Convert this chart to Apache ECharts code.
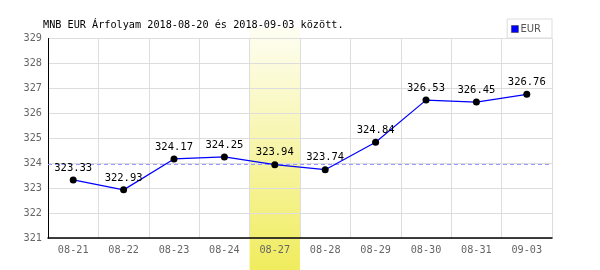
<!DOCTYPE html>
<html><head><meta charset="utf-8">
<script src="https://cdn.jsdelivr.net/npm/echarts@6/dist/echarts.min.js"></script>
<style>html,body{margin:0;padding:0;background:#fff}#c{width:600px;height:270px}</style>
</head><body><div id="c"></div>
<script>
var categories = ['08-21','08-22','08-23','08-24','08-27','08-28','08-29','08-30','08-31','09-03'];
var eurValues = [323.33,322.93,324.17,324.25,323.94,323.74,324.84,326.53,326.45,326.76];
var highlightCategory = '08-27';
var referenceValue = 323.94;
var yTicks = [321,322,323,324,325,326,327,328,329];
var titleText = 'MNB EUR Árfolyam 2018-08-20 és 2018-09-03 között.';
var seriesName = 'EUR';

var mono = '"DejaVu Sans Mono", monospace';
var chart = echarts.init(document.getElementById('c'), null, {renderer:'canvas'});
var option = {
  animation: false,
  backgroundColor: '#fff',
  title: { text: titleText, left: 43, top: 20, padding: 0, textStyle: { fontFamily: mono, fontSize: 10.2, fontWeight: 'normal', color: '#000' } },
  legend: {
    data: [{ name: seriesName, icon: 'rect', itemStyle: { color: '#0000ff', borderColor: '#333', borderWidth: 0.5 } }],
    right: 48, top: 19, itemWidth: 7, itemHeight: 7, itemGap: 2,
    padding: [5, 11, 4, 4],
    borderColor: '#ddd', borderWidth: 1, backgroundColor: '#fff',
    textStyle: { fontFamily: 'DejaVu Sans', fontSize: 10, color: '#555', padding: [0,0,0,-3] }
  },
  grid: { left: 48, right: 48, top: 38.5, bottom: 32 },
  xAxis: {
    type: 'category', data: categories, boundaryGap: true,
    axisLine: { lineStyle: { color: '#000', width: 1.5 } },
    axisTick: { show: false },
    axisLabel: { fontFamily: mono, fontSize: 10.2, color: '#666', margin: 7 },
    splitLine: { show: true, lineStyle: { color: '#ddd', width: 1 } }
  },
  yAxis: {
    type: 'value', min: yTicks[0], max: yTicks[yTicks.length-1], interval: 1,
    axisLine: { show: true, lineStyle: { color: '#000', width: 1 } },
    axisTick: { show: false },
    axisLabel: { fontFamily: mono, fontSize: 10.2, color: '#666', margin: 6 },
    splitLine: { show: true, lineStyle: { color: '#ddd', width: 1 } }
  },
  series: [{
    name: seriesName, type: 'line', data: eurValues,
    lineStyle: { color: '#0000ff', width: 1.2 },
    itemStyle: { color: '#000' },
    symbol: 'circle', symbolSize: 7,
    label: { show: true, position: 'top', distance: 3, fontFamily: mono, fontSize: 10.5, color: '#000' },
    markLine: {
      silent: true, symbol: 'none', label: { show: false },
      lineStyle: { color: '#9999ff', type: [4, 3], width: 1 },
      data: [{ yAxis: referenceValue }]
    },
    z: 5
  }]
};
chart.setOption(option);
var idx = categories.indexOf(highlightCategory);
var x0 = chart.convertToPixel({xAxisIndex:0}, categories[idx]);
var x1 = chart.convertToPixel({xAxisIndex:0}, categories[idx+1]);
var bw = x1 - x0;
chart.setOption({
  graphic: [{
    type: 'rect', z: -10, silent: true,
    shape: { x: x0 - bw/2, y: 27, width: bw, height: 243 },
    style: { fill: new echarts.graphic.LinearGradient(0,0,0,1,[{offset:0,color:'#fefef4'},{offset:1,color:'#f0ec5e'}]) }
  }]
});
</script></body></html>
